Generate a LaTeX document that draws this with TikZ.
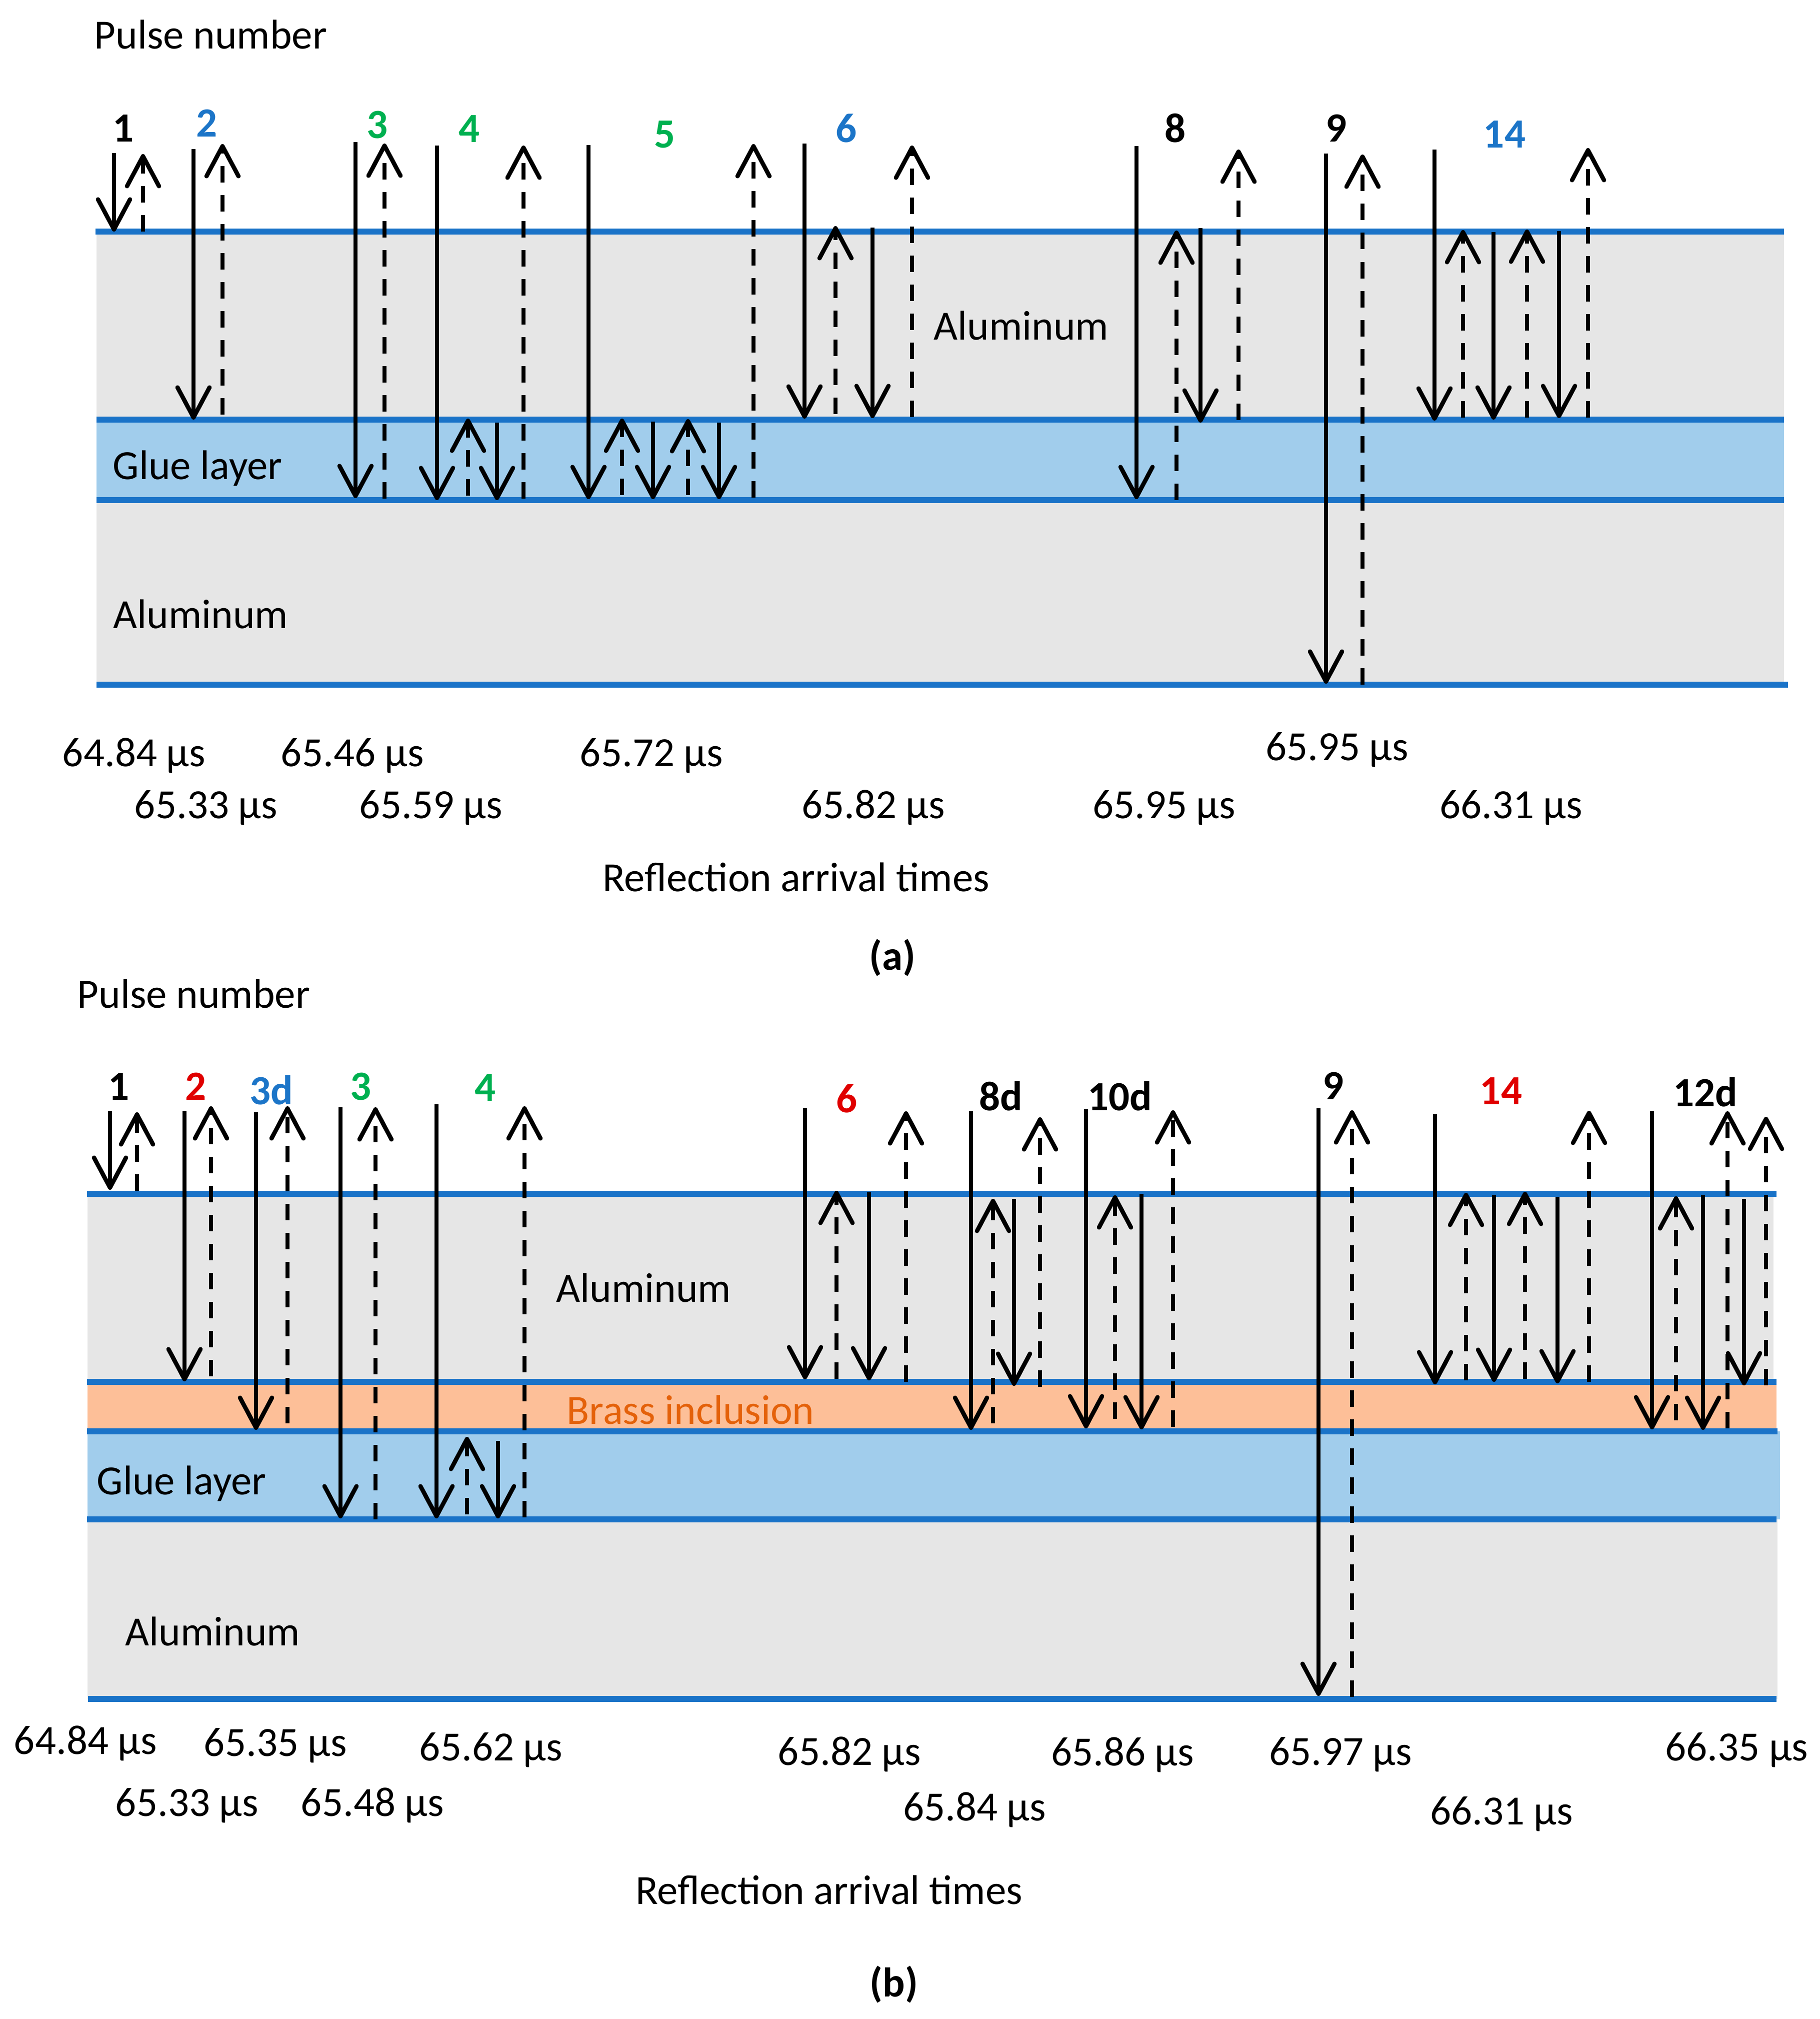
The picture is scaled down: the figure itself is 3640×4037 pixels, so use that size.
\documentclass[tikz,border=0pt]{standalone}
\usepackage{fontspec}
\setmainfont{Carlito}
\usetikzlibrary{arrows.meta}
\definecolor{lineblue}{HTML}{1A73C8}
\definecolor{gluefill}{HTML}{A1CDEC}
\definecolor{alufill}{HTML}{E6E6E6}
\definecolor{brassfill}{HTML}{FDBF98}
\definecolor{brasstext}{HTML}{E4610A}
\definecolor{labgreen}{HTML}{00B050}
\definecolor{labblue}{HTML}{1C75C8}
\definecolor{labred}{HTML}{E00000}
\newcommand\arrdown[3]{\draw[solidarr] (#1,#2) -- (#1,#3);}
\newcommand\arrup[3]{\draw[dasharr] (#1,#2) -- (#1,#3);}
\begin{document}
\begin{tikzpicture}[x=0.01cm,y=-0.01cm,
  layerline/.style={draw=lineblue,line width=3.4pt},
  solidarr/.style={line width=2.45pt,-{Straight Barb[length=0.6cm,width=0.64cm,round]}},
  dasharr/.style={solidarr,dash pattern=on 0.33cm off 0.25cm},
  txt/.style={inner sep=0pt,font=\fontsize{23.6}{28}\selectfont},
  lab/.style={inner sep=0pt,anchor=base,font=\fontsize{23.6}{28}\selectfont\bfseries},
  tm/.style={txt,anchor=base},
]
\fill[white] (0,0) rectangle (3640,4037);
\useasboundingbox (0,0) rectangle (3640,4037);

% ---------------- panel (a) ----------------
\fill[alufill] (193,463) rectangle (3568,839);
\fill[gluefill] (193,839) rectangle (3568,1000);
\fill[alufill] (193,1000) rectangle (3568,1369);
\draw[layerline] (191,463) -- (3568,463);
\draw[layerline] (193,839) -- (3568,839);
\draw[layerline] (193,1000) -- (3568,1000);
\draw[layerline] (193,1369) -- (3576,1369);

\node[txt,anchor=base west] (pna) at (188,98) {Pulse number};
\node[txt,anchor=base west] (alua1) at (1867,680) {Aluminum};
\node[txt,anchor=base west] (gluea) at (225,958) {Glue layer};
\node[txt,anchor=base west] (alua2) at (226,1256) {Aluminum};

\node[lab] (la1) at (247,284) {1};
\node[lab,text=labblue] (la2) at (414,274) {2};
\node[lab,text=labgreen] (la3) at (755,277) {3};
\node[lab,text=labgreen] (la4) at (939,285) {4};
\node[lab,text=labgreen] (la5) at (1330,296) {5};
\node[lab,text=labblue] (la6) at (1693,285) {6};
\node[lab] (la8) at (2350,285) {8};
\node[lab] (la9) at (2672,284) {9};
\node[lab,text=labblue] (la14) at (3009,296) {14};

% pulse 1
\arrdown{228}{306}{463} \arrup{286}{463}{308}
% pulse 2
\arrdown{387}{298}{839} \arrup{445}{829}{288}
% pulse 3
\arrdown{711}{284}{996} \arrup{769}{997}{287}
% pulse 4
\arrdown{874}{291}{1000} \arrup{936}{991}{837} \arrdown{994}{845}{1000} \arrup{1047}{997}{291}
% pulse 5
\arrdown{1177}{290}{998} \arrup{1244}{990}{837} \arrdown{1306}{843}{998}
\arrup{1376}{990}{838} \arrdown{1438}{845}{998} \arrup{1507}{995}{288}
% pulse 6
\arrdown{1609}{287}{837} \arrup{1671}{828}{452} \arrdown{1745}{455}{836} \arrup{1824}{834}{291}
% pulse 8
\arrdown{2273}{292}{998} \arrup{2353}{1000}{461} \arrdown{2401}{456}{845} \arrup{2477}{840}{299}
% pulse 9
\arrdown{2652}{307}{1367} \arrup{2725}{1369}{309}
% pulse 14
\arrdown{2869}{299}{841} \arrup{2926}{835}{460} \arrdown{2987}{464}{839}
\arrup{3054}{835}{459} \arrdown{3118}{462}{836} \arrup{3176}{835}{296}

\node[tm] (ta1) at (268,1532) {64.84 µs};
\node[tm] (ta2) at (705,1532) {65.46 µs};
\node[tm] (ta3) at (1303,1532) {65.72 µs};
\node[tm] (ta4) at (412,1636) {65.33 µs};
\node[tm] (ta5) at (862,1636) {65.59 µs};
\node[tm] (ta6) at (1747,1636) {65.82 µs};
\node[tm] (ta7) at (2328,1636) {65.95 µs};
\node[tm] (ta8) at (2674,1520) {65.95 µs};
\node[tm] (ta9) at (3022,1636) {66.31 µs};
\node[tm] (rata) at (1592,1782) {Reflection arrival times};
\node[lab] (capa) at (1785,1939) {(a)};

% ---------------- panel (b) ----------------
\fill[alufill] (175,2387) rectangle (3547,2763);
\fill[brassfill] (175,2763) rectangle (3553,2862);
\fill[gluefill] (175,2862) rectangle (3560,3038);
\fill[alufill] (175,3038) rectangle (3555,3397);
\draw[layerline] (174,2387) -- (3553,2387);
\draw[layerline] (174,2763) -- (3553,2763);
\draw[layerline] (174,2862) -- (3555,2862);
\draw[layerline] (174,3038) -- (3553,3038);
\draw[layerline] (176,3397) -- (3553,3397);

\node[txt,anchor=base west] (pnb) at (154,2015) {Pulse number};
\node[txt,anchor=base west] (alub1) at (1112,2603) {Aluminum};
\node[txt,anchor=base west,text=brasstext] (brass) at (1133,2847) {Brass inclusion};
\node[txt,anchor=base west] (glueb) at (193,2988) {Glue layer};
\node[txt,anchor=base west] (alub2) at (250,3290) {Aluminum};

\node[lab] (lb1) at (238,2199) {1};
\node[lab,text=labred] (lb2) at (392,2199) {2};
\node[lab,text=labblue] (lb3d) at (543,2208) {3d};
\node[lab,text=labgreen] (lb3) at (722,2199) {3};
\node[lab,text=labgreen] (lb4) at (971,2201) {4};
\node[lab,text=labred] (lb6) at (1694,2224) {6};
\node[lab] (lb8d) at (2002,2220) {8d};
\node[lab] (lb10d) at (2240,2220) {10d};
\node[lab] (lb9) at (2666,2198) {9};
\node[lab,text=labred] (lb14) at (3002,2208) {14};
\node[lab] (lb12d) at (3411,2212) {12d};

% pulse 1
\arrdown{220}{2221}{2379} \arrup{274}{2381}{2224}
% pulse 2
\arrdown{369}{2221}{2762} \arrup{422}{2752}{2212}
% pulse 3d
\arrdown{512}{2224}{2859} \arrup{575}{2846}{2212}
% pulse 3
\arrdown{681}{2214}{3036} \arrup{751}{3038}{2214}
% pulse 4
\arrdown{873}{2208}{3036} \arrup{934}{3028}{2873} \arrdown{996}{2881}{3036} \arrup{1049}{3034}{2212}
% pulse 6
\arrdown{1610}{2215}{2758} \arrup{1673}{2757}{2381} \arrdown{1738}{2384}{2760} \arrup{1812}{2763}{2222}
% pulse 8d
\arrdown{1942}{2222}{2859} \arrup{1986}{2846}{2397} \arrdown{2028}{2397}{2771} \arrup{2080}{2773}{2234}
% pulse 10d
\arrdown{2172}{2218}{2856} \arrup{2230}{2837}{2390} \arrdown{2283}{2387}{2858} \arrup{2346}{2853}{2220}
% pulse 9
\arrdown{2637}{2216}{3391} \arrup{2704}{3393}{2220}
% pulse 14
\arrdown{2870}{2228}{2768} \arrup{2932}{2760}{2385} \arrdown{2988}{2390}{2763}
\arrup{3050}{2757}{2383} \arrdown{3115}{2393}{2766} \arrup{3178}{2763}{2221}
% pulse 12d
\arrdown{3304}{2221}{2858} \arrup{3352}{2840}{2392} \arrdown{3406}{2390}{2859}
\arrup{3455}{2856}{2222} \arrdown{3488}{2397}{2770} \arrup{3532}{2770}{2233}

\node[tm] (tb1) at (171,3507) {64.84 µs};
\node[tm] (tb2) at (551,3511) {65.35 µs};
\node[tm] (tb3) at (982,3520) {65.62 µs};
\node[tm] (tb4) at (1699,3529) {65.82 µs};
\node[tm] (tb5) at (2245,3530) {65.86 µs};
\node[tm] (tb6) at (2681,3529) {65.97 µs};
\node[tm] (tb7) at (3473,3520) {66.35 µs};
\node[tm] (tb8) at (374,3631) {65.33 µs};
\node[tm] (tb9) at (745,3631) {65.48 µs};
\node[tm] (tb10) at (1949,3640) {65.84 µs};
\node[tm] (tb11) at (3003,3648) {66.31 µs};
\node[tm] (ratb) at (1658,3807) {Reflection arrival times};
\node[lab] (capb) at (1788,3992) {(b)};
\end{tikzpicture}
\end{document}
